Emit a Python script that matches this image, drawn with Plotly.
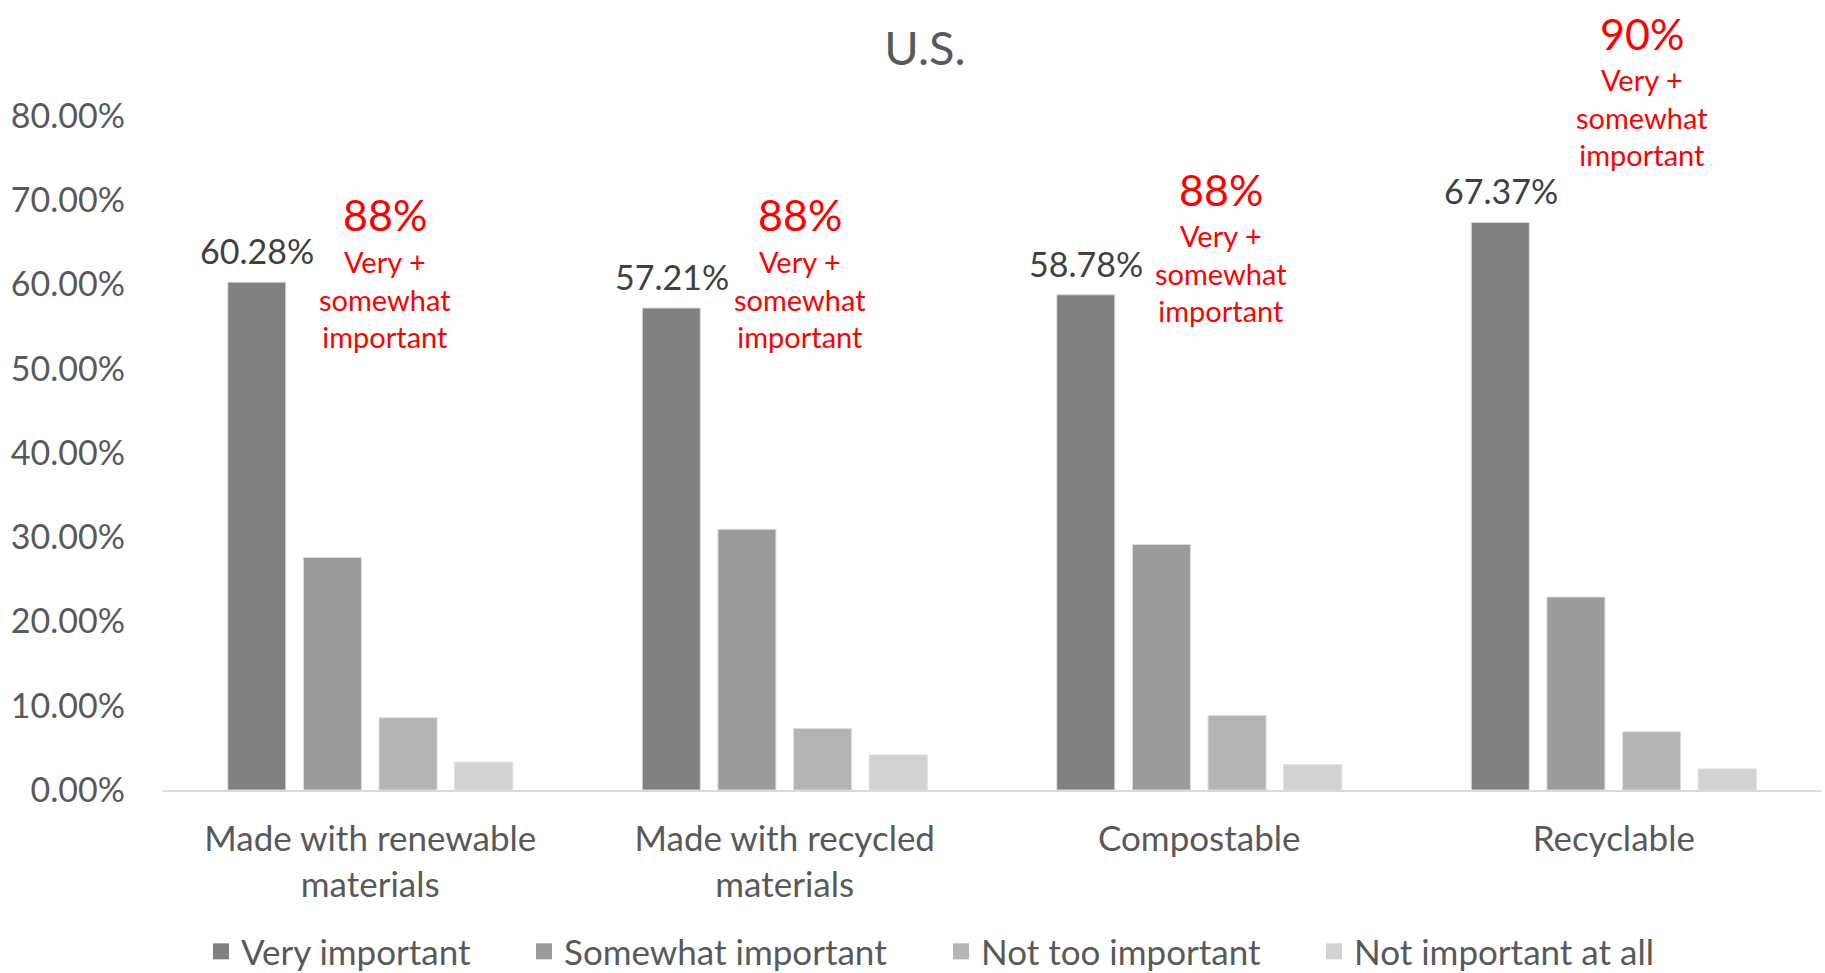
import plotly.graph_objects as go

# Survey: importance of packaging attributes (U.S.)
categories = ["Made with renewable<br>materials", "Made with recycled<br>materials",
              "Compostable", "Recyclable"]
series_names = ["Very important", "Somewhat important", "Not too important", "Not important at all"]
very_important = [60.28, 57.21, 58.78, 67.37]
somewhat_important = [27.6, 30.95, 29.15, 22.9]
not_too_important = [8.57, 7.3, 8.84, 6.9]
not_important_at_all = [3.3, 4.15, 3.0, 2.5]
y_ticks = [0, 10, 20, 30, 40, 50, 60, 70, 80]
y_tick_labels = [f"{v:.2f}%" for v in y_ticks]

series_values = [very_important, somewhat_important, not_too_important, not_important_at_all]
colors = ["#808080", "#9b9b9b", "#b4b4b4", "#d2d2d2"]

# combined "very + somewhat" share per category
combined = [round(v + s) for v, s in zip(very_important, somewhat_important)]

FONT = "Lato"
TXT = "#595959"
Y_MAX = 80

fig = go.Figure()
legend_ids = ["legend", "legend2", "legend3", "legend4"]
for name, vals, col, lg in zip(series_names, series_values, colors, legend_ids):
    fig.add_trace(go.Bar(
        x=categories, y=vals, name=name,
        marker=dict(color=col, line=dict(color="#dcdcdc", width=1)),
        legendgroup=name, showlegend=False, hoverinfo="skip",
    ))
    # legend key: larger square swatch than the default bar glyph
    fig.add_trace(go.Scatter(
        x=[None], y=[None], mode="markers", name=name, legendgroup=name,
        marker=dict(symbol="square", size=16, color=col),
        legend=lg, hoverinfo="skip",
    ))

# value labels above the "Very important" bars
annotations = []
for cat, v in zip(categories, very_important):
    annotations.append(dict(
        x=cat, y=v, xref="x", yref="y", text=f"{v:.2f}%", showarrow=False,
        yanchor="bottom", xanchor="center", xshift=-113, yshift=9,
        font=dict(family=FONT, size=34, color="#404040"),
    ))

# red call-outs: combined share and its description (paper-y so they may sit above the axis)
callout_y = [68.3, 68.3, 71.3, 89.8]
callout_xshift = [15, 15, 22, 28]
for cat, pct, yy, xs in zip(categories, combined, callout_y, callout_xshift):
    annotations.append(dict(
        x=cat, y=yy / Y_MAX, xref="x", yref="paper", text=f"{pct}%", showarrow=False,
        yanchor="middle", xanchor="center", xshift=xs,
        font=dict(family=FONT, size=43, color="#ff0000"),
    ))
    annotations.append(dict(
        x=cat, y=yy / Y_MAX, xref="x", yref="paper", text="Very +<br>somewhat<br>important",
        showarrow=False, yanchor="top", xanchor="center", xshift=xs, yshift=-27,
        font=dict(family=FONT, size=29, color="#ff0000"),
    ))

legend_style = dict(orientation="h", xref="container", yref="container",
                    xanchor="left", yanchor="middle", y=0.022,
                    font=dict(family=FONT, size=35, color=TXT),
                    bgcolor="rgba(0,0,0,0)", itemsizing="trace")
legend_x = [201, 524, 941, 1314]

fig.update_layout(
    width=1825, height=973,
    paper_bgcolor="white", plot_bgcolor="white",
    margin=dict(l=163, r=4, t=116, b=183),
    barmode="group", bargap=0.27, bargroupgap=0.233,
    title=dict(text="U.S.", x=925 / 1825, xanchor="center", y=1 - 49 / 973, yanchor="middle",
               xref="container", yref="container",
               font=dict(family=FONT, size=47, color=TXT)),
    font=dict(family=FONT, color=TXT),
    annotations=annotations,
    showlegend=True,
    xaxis=dict(showline=True, linecolor="#d9d9d9", linewidth=2, showgrid=False,
               ticks="", tickfont=dict(family=FONT, size=35, color=TXT),
               ticklabelstandoff=17, zeroline=False),
    yaxis=dict(range=[0, Y_MAX], tickvals=y_ticks, ticktext=y_tick_labels,
               showgrid=False, zeroline=False, showline=False, ticks="",
               tickfont=dict(family=FONT, size=34, color=TXT), ticklabelstandoff=37),
)
for lg, lx in zip(legend_ids, legend_x):
    fig.update_layout({lg: dict(legend_style, x=lx / 1825)})

fig.write_html("out.html")
